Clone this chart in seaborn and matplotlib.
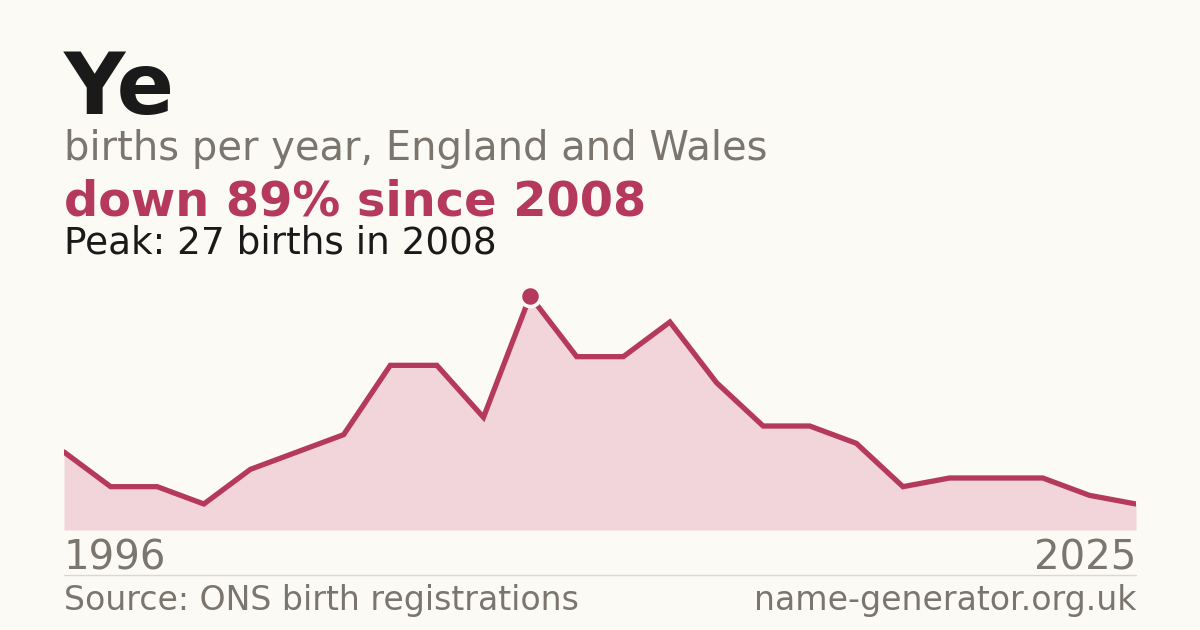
import matplotlib
matplotlib.use("Agg")
import matplotlib.pyplot as plt
import seaborn as sns
import pandas as pd
import numpy as np

# ---- data ----
years = [1996, 1997, 1998, 2000, 2001, 2002, 2003, 2005, 2006, 2007,
         2008, 2009, 2010, 2012, 2013, 2015, 2016, 2018, 2019, 2021,
         2022, 2023, 2024, 2025]
births = [9, 5, 5, 3, 7, 9, 11, 19, 19, 13,
          27, 20, 20, 24, 17, 12, 12, 10, 5, 6,
          6, 6, 4, 3]
name = "Ye"
peak_year = 2008
peak_value = 27

BG = "#fbfaf5"
RED = "#b5395a"
FILL = "#f2d5da"
GRAY = "#7a756d"
DARK = "#1a1a1a"

sns.set_theme(style="white")
plt.rcParams["font.family"] = ["DejaVu Sans"]

df = pd.DataFrame({"year": years, "births": births})
df["pos"] = np.arange(len(df))

W, H = 1200, 630
fig = plt.figure(figsize=(12, 6.3), dpi=100, facecolor=BG)

ax_top_px, ax_bot_px = 280, 530
ax = fig.add_axes([64 / W, (H - ax_bot_px) / H, 1072 / W, (ax_bot_px - ax_top_px) / H])
ax.set_facecolor(BG)
ppb = (530 - 296) / peak_value
ax.set_ylim(0, (ax_bot_px - ax_top_px) / ppb)
ax.set_xlim(df["pos"].iloc[0], df["pos"].iloc[-1])

ax.fill_between(df["pos"], df["births"], 0, color=FILL, linewidth=0, zorder=1)
sns.lineplot(data=df, x="pos", y="births", color=RED, linewidth=3.8, ax=ax,
             zorder=2, solid_joinstyle="miter")
pk = df[df["year"] == peak_year]
sns.scatterplot(data=pk, x="pos", y="births", color=RED, s=210, edgecolor=BG,
                linewidth=2.6, ax=ax, zorder=3, clip_on=False)

ax.set_axis_off()

def ty(px):
    return (H - px) / H

fig.text(64 / W, ty(114), name, fontsize=61, fontweight="bold", color=DARK, va="baseline")
fig.text(64 / W, ty(160), "births per year, England and Wales", fontsize=28.8, color=GRAY, va="baseline")
fig.text(64 / W, ty(215), f"down 89% since {peak_year}", fontsize=34.5, fontweight="bold", color=RED, va="baseline")
fig.text(64 / W, ty(254), f"Peak: {peak_value} births in {peak_year}", fontsize=26.9, color=DARK, va="baseline")

fig.text(64 / W, ty(570), str(years[0]), fontsize=29, color=GRAY, va="baseline")
fig.text(1136 / W, ty(570), str(years[-1]), fontsize=29, color=GRAY, va="baseline", ha="right")

fig.add_artist(plt.Line2D([64 / W, 1136 / W], [ty(574.5), ty(574.5)], color="#ddd8cf", linewidth=1))

fig.text(64 / W, ty(610), "Source: ONS birth registrations", fontsize=23.9, color=GRAY, va="baseline")
fig.text(1136 / W, ty(610), "name-generator.org.uk", fontsize=23.9, color=GRAY, va="baseline", ha="right")

fig.savefig("out.png", dpi=100, facecolor=BG)
